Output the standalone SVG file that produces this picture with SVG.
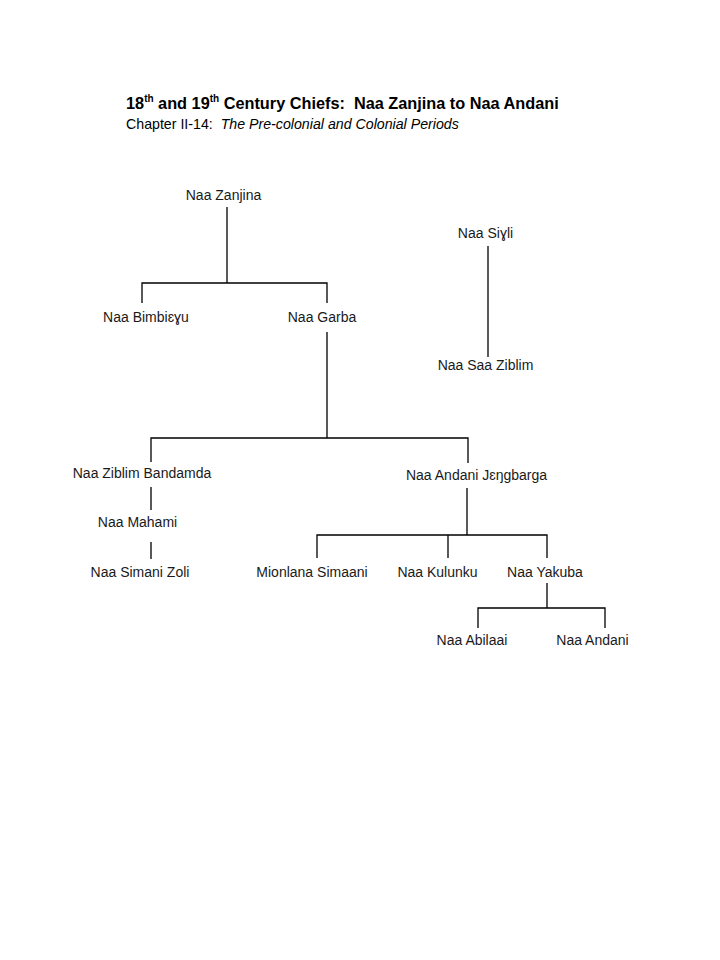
<svg xmlns="http://www.w3.org/2000/svg" width="720" height="960" viewBox="0 0 720 960">
<style>
.t{font-family:"Liberation Sans",Arial,sans-serif;font-size:14px;fill:#1a1a1a;text-anchor:middle}
.h{font-family:"Liberation Sans",Arial,sans-serif;font-size:16.3px;font-weight:bold;fill:#000;white-space:pre}
.s{font-family:"Liberation Sans",Arial,sans-serif;font-size:14.2px;fill:#000;white-space:pre}
.c{stroke:#000;stroke-width:1.3;fill:none}
</style>
<rect width="720" height="960" fill="#fff"/>
<text class="h" x="126" y="109" xml:space="preserve">18<tspan font-size="10" dy="-7">th</tspan><tspan dy="7"> and 19</tspan><tspan font-size="10" dy="-7">th</tspan><tspan dy="7"> Century Chiefs:  Naa Zanjina to Naa Andani</tspan></text>
<text class="s" x="126" y="129" xml:space="preserve">Chapter II-14:  <tspan font-style="italic">The Pre-colonial and Colonial Periods</tspan></text>
<g id="connectors" class="c">
<path d="M227 207V283M142 303V283H327V303"/>
<path d="M488 246V357"/>
<path d="M327 332V438M151 462V438H468V463"/>
<path d="M151 487V510M151 542V559"/>
<path d="M467 488V535M317 558V535H547V558M448 535V558"/>
<path d="M547 583V608M478 628V608H605V628"/>
</g>
<g id="zanjina"><text class="t" x="223.5" y="200">Naa Zanjina</text></g>
<g id="bimbieyu"><text class="t" x="146" y="322">Naa Bimbiɛɣu</text></g>
<g id="garba"><text class="t" x="322" y="322">Naa Garba</text></g>
<g id="siyli"><text class="t" x="485.5" y="238">Naa Siɣli</text></g>
<g id="saaziblim"><text class="t" x="485.5" y="370">Naa Saa Ziblim</text></g>
<g id="ziblim"><text class="t" x="142" y="478">Naa Ziblim Bandamda</text></g>
<g id="andanij"><text class="t" x="476.5" y="480">Naa Andani Jɛŋgbarga</text></g>
<g id="mahami"><text class="t" x="137.5" y="527">Naa Mahami</text></g>
<g id="simani"><text class="t" x="140" y="577">Naa Simani Zoli</text></g>
<g id="mionlana"><text class="t" x="312" y="577">Mionlana Simaani</text></g>
<g id="kulunku"><text class="t" x="437.5" y="577">Naa Kulunku</text></g>
<g id="yakuba"><text class="t" x="545" y="577">Naa Yakuba</text></g>
<g id="abilaai"><text class="t" x="472" y="645">Naa Abilaai</text></g>
<g id="andani"><text class="t" x="592.5" y="645">Naa Andani</text></g>
</svg>
